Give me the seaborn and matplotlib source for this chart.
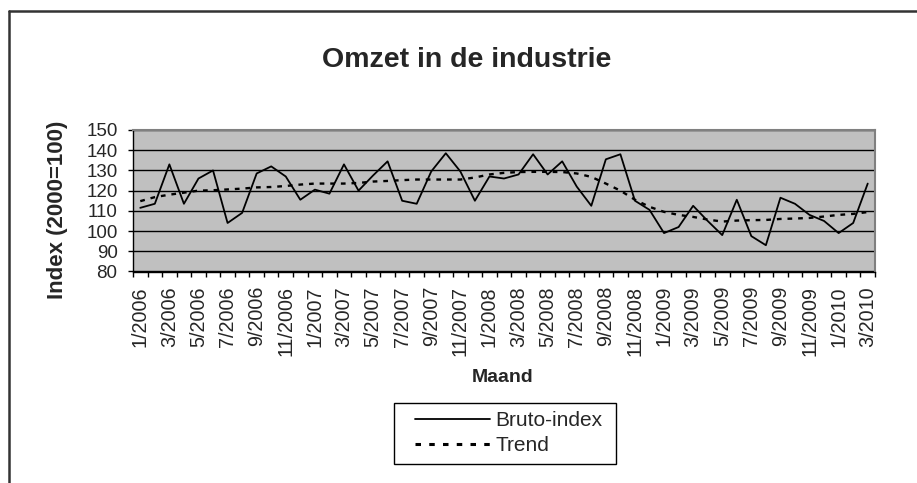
import numpy as np
import pandas as pd
import seaborn as sns
import matplotlib.pyplot as plt
from matplotlib.lines import Line2D
from matplotlib.patches import Rectangle
from matplotlib.ticker import FixedLocator

sns.set_theme(style="white")
plt.rcParams['font.family'] = ['Liberation Sans', 'DejaVu Sans']

# months 1/2006 .. 3/2010
maanden = [f"{m}/{j}" for j in range(2006, 2011) for m in range(1, 13)][:51]

bruto = [111.5, 113.5, 133, 113.5, 126, 130, 104, 109, 128.5, 132,
         127, 115.5, 120.5, 118.5, 133, 120, 127.5, 134.5, 115, 113.5,
         129.5, 138.5, 129.5, 115, 127, 126, 128, 138, 128, 134.5,
         122, 112.5, 135.5, 138, 115, 110.5, 99, 102, 112.5, 105,
         98, 115.5, 97.5, 93, 116.5, 113.5, 108, 105, 99, 104,
         123.5]

trend = [114.8, 116.8, 118, 119, 120, 120.2, 120.6, 121, 121.6, 121.8,
         122.3, 123, 123.5, 123.5, 123.5, 123.8, 124.5, 124.8, 125.2, 125.5,
         125.5, 125.5, 125.5, 126.5, 128, 128.8, 129.2, 129.3, 129.3, 129.2,
         128.5, 126.8, 123.5, 120, 115.5, 112, 109.5, 108, 107, 105.7,
         104.7, 105.2, 105.4, 105.5, 106, 106.2, 106.5, 107.2, 108, 108.5,
         109.4]

y_ticks = [80, 90, 100, 110, 120, 130, 140, 150]

df = pd.DataFrame({'pos': np.arange(len(maanden)), 'maand': maanden,
                   'Bruto-index': bruto, 'Trend': trend})

W, H = 917, 483
fig = plt.figure(figsize=(W / 100, H / 100), dpi=100)
fig.patch.set_facecolor('white')
ax = fig.add_axes([133 / W, 1 - 271.5 / H, (875 - 133) / W, (271.5 - 130) / H])
ax.set_facecolor('#C0C0C0')

sns.lineplot(data=df, x='pos', y='Trend', ax=ax, color='black', lw=1.7,
             linestyle=(0, (2, 2.5)), zorder=3)
sns.lineplot(data=df, x='pos', y='Bruto-index', ax=ax, color='black', lw=1.3,
             zorder=4)

ax.set_xlim(-0.5, len(maanden) - 0.5)
ax.set_ylim(80, 150)
ax.set_yticks(y_ticks)
ax.set_yticklabels([str(v) for v in y_ticks], fontsize=13.5)
ax.yaxis.grid(True, color='black', lw=1)
ax.set_axisbelow(True)

ax.set_xticks(df['pos'][::2])
ax.set_xticklabels(df['maand'][::2], rotation=90, fontsize=14.2)
ax.xaxis.set_minor_locator(FixedLocator(np.arange(-0.5, len(maanden), 1)))
ax.tick_params(axis='x', which='major', length=0, pad=10.5)
ax.tick_params(axis='x', which='minor', length=3.6, width=1, color='black',
               direction='out', bottom=True)
ax.tick_params(axis='y', length=3.6, width=1, color='black', direction='out',
               left=True, pad=7.5)
ax.set_xlabel('')
ax.set_ylabel('')

for s in ['left', 'bottom']:
    ax.spines[s].set_color('black')
    ax.spines[s].set_linewidth(1)
for s in ['top', 'right']:
    ax.spines[s].set_color('#808080')
    ax.spines[s].set_linewidth(1.5)

# titles
fig.text(467 / W, 1 - 67 / H, 'Omzet in de industrie', ha='center',
         va='baseline', fontsize=20.5, fontweight='bold')
fig.text(58 / W, 1 - 210 / H, 'Index (2000=100)', ha='center', va='center',
         rotation=90, fontsize=16, fontweight='bold')
fig.text(503 / W, 1 - 377 / H, 'Maand', ha='center', va='center',
         fontsize=14, fontweight='bold')

# legend, frame drawn separately
handles = [Line2D([], [], color='black', lw=1.3),
           Line2D([], [], color='black', lw=2.2, linestyle=(0, (1.8, 2.7)))]
leg = fig.legend(handles, ['Bruto-index', 'Trend'], loc='center left',
                 bbox_to_anchor=(394 / W, 1 - 433 / H), fontsize=15,
                 frameon=False, handlelength=3.6, handletextpad=0.25,
                 labelspacing=0.3, borderpad=0.5)
fig.add_artist(Rectangle((394 / W, 1 - 464 / H), (616 - 394) / W, (464 - 403) / H,
                         transform=fig.transFigure, facecolor='none',
                         edgecolor='black', lw=1))

# chart border (cropped at right and bottom)
fig.add_artist(Line2D([8.5 / W, 1.01], [1 - 11 / H, 1 - 11 / H],
                      transform=fig.transFigure, color='#333333', lw=1.8))
fig.add_artist(Line2D([8.5 / W, 8.5 / W], [1 - 11 / H, -0.01],
                      transform=fig.transFigure, color='#333333', lw=1.8))

fig.savefig('out.png', dpi=100)
